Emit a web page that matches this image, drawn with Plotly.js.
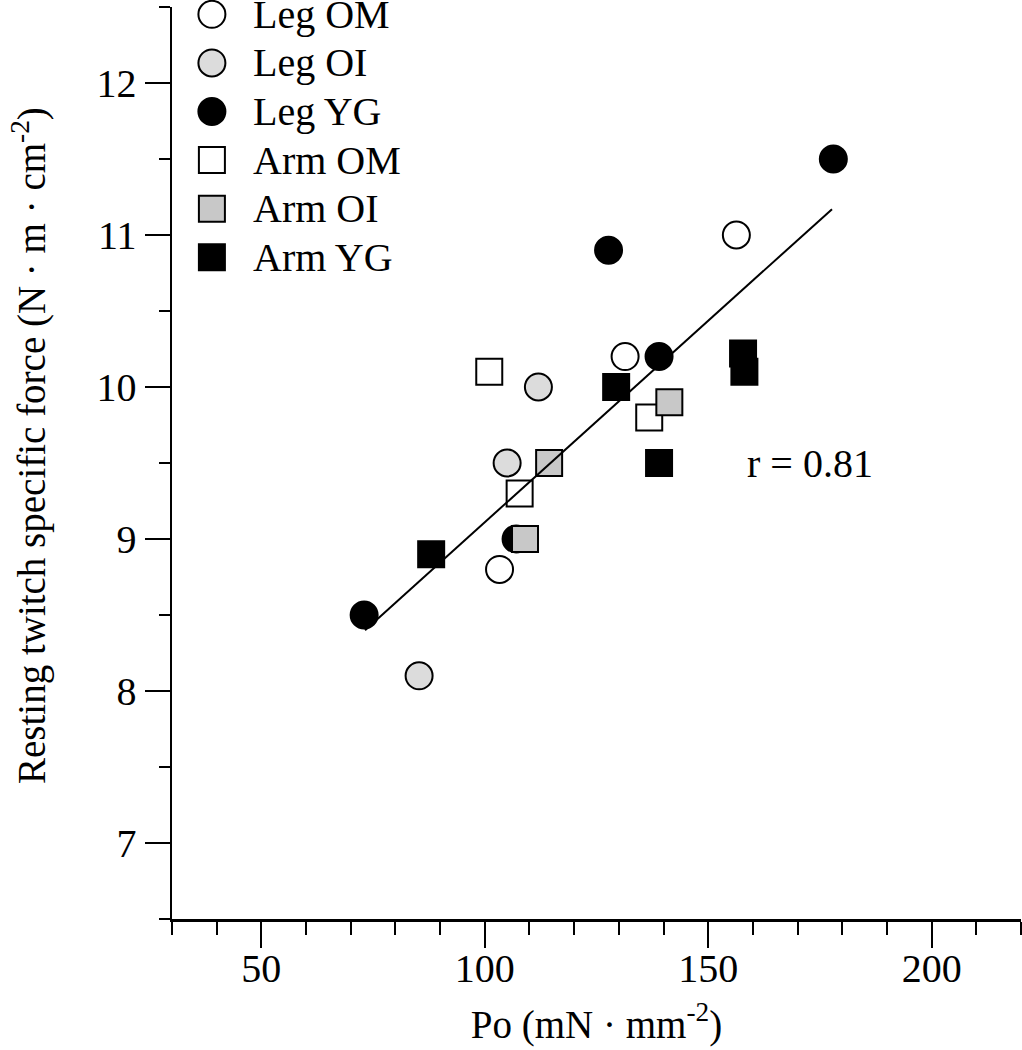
<!DOCTYPE html>
<html>
<head>
<meta charset="utf-8">
<script src="https://cdn.plot.ly/plotly-3.0.1.min.js"></script>
<style>html,body{margin:0;padding:0;background:#fff;}#chart{width:1022px;height:1050px;}</style>
</head>
<body>
<div id="chart"></div>
<script>
// ---- data ----
const seriesNames = ["Leg OM", "Leg OI", "Leg YG", "Arm OM", "Arm OI", "Arm YG"];
const legOM_x = [131.4, 156.3, 103.3];
const legOM_y = [10.2, 11.0, 8.8];
const legOI_x = [112.0, 105.0, 85.3];
const legOI_y = [10.0, 9.5, 8.1];
const legYG_x = [178.0, 127.7, 139.0, 107.0, 73.0];
const legYG_y = [11.5, 10.9, 10.2, 9.0, 8.5];
const armOM_x = [101.0, 136.8, 107.8];
const armOM_y = [10.1, 9.8, 9.3];
const armOI_x = [141.3, 114.4, 109.0];
const armOI_y = [9.9, 9.5, 9.0];
const armYG_x = [129.4, 157.8, 158.1, 139.0, 88.0];
const armYG_y = [10.0, 10.22, 10.1, 9.5, 8.9];
const fitX = [73.2, 177.7];
const fitY = [8.40, 11.17];
const rLabel = "r = 0.81";
const xTitle = "Po (mN · mm<sup>-2</sup>)";
const yTitle = "Resting twitch specific force (N · m · cm<sup>-2</sup>)";
const xTickVals = [50, 100, 150, 200];
const yTickVals = [7, 8, 9, 10, 11, 12];

// ---- styles ----
const FONT = "Liberation Serif, Times New Roman, serif";
const symbols = ["circle", "circle", "circle", "square", "square", "square"];
const fills = ["#ffffff", "#dcdcdc", "#000000", "#ffffff", "#c8c8c8", "#000000"];
const xs = [legOM_x, legOI_x, legYG_x, armOM_x, armOI_x, armYG_x];
const ys = [legOM_y, legOI_y, legYG_y, armOM_y, armOI_y, armYG_y];

const traces = seriesNames.map((name, i) => ({
  type: "scatter", mode: "markers", name: name,
  x: xs[i], y: ys[i], cliponaxis: false, showlegend: false,
  marker: { symbol: symbols[i], size: i < 3 ? 27 : 26, color: fills[i], opacity: 1,
            line: { color: "#000", width: 2 } }
}));

traces.push({
  type: "scatter", mode: "lines", x: fitX, y: fitY, showlegend: false,
  line: { color: "#000", width: 2 }, hoverinfo: "skip"
});

// custom legend (placed in an overlay axis spanning the plot area)
const legX0 = 0.047, legY0 = 0.992, legDy = 0.0533;
seriesNames.forEach((name, i) => {
  traces.push({
    type: "scatter", mode: "markers", xaxis: "x2", yaxis: "y2", showlegend: false,
    cliponaxis: false, hoverinfo: "skip",
    x: [legX0], y: [legY0 - i * legDy],
    marker: { symbol: symbols[i], size: i < 3 ? 27 : 26, color: fills[i], opacity: 1,
              line: { color: "#000", width: 2 } }
  });
});

const annotations = seriesNames.map((name, i) => ({
  xref: "x2", yref: "y2", x: 0.0935, y: legY0 - i * legDy,
  xanchor: "left", yanchor: "middle", showarrow: false, text: name,
  font: { family: FONT, size: 40, color: "#000" }
}));
annotations.push({
  xref: "x", yref: "y", x: 172.8, y: 9.5, showarrow: false, text: rLabel,
  xanchor: "center", yanchor: "middle",
  font: { family: FONT, size: 40, color: "#000" }
});
// y-axis title (as a rotated annotation so its vertical placement can match)
annotations.push({
  xref: "paper", yref: "paper", x: -0.168, y: 0.519, showarrow: false,
  text: yTitle, textangle: -90, xanchor: "center", yanchor: "middle",
  font: { family: FONT, size: 39, color: "#000" }
});

const layout = {
  width: 1022, height: 1050,
  margin: { l: 172, r: 1, t: 7, b: 131 },
  paper_bgcolor: "#fff", plot_bgcolor: "#fff",
  font: { family: FONT, size: 40, color: "#000" },
  showlegend: false,
  xaxis: {
    range: [30, 220], showgrid: false, zeroline: false,
    showline: true, linecolor: "#000", linewidth: 2.5,
    ticks: "outside", ticklen: 26, tickwidth: 2, tickcolor: "#000",
    tickvals: xTickVals, ticktext: xTickVals.map(String),
    ticklabelstandoff: -14,
    minor: { dtick: 10, tick0: 0, ticks: "outside", ticklen: 13, tickwidth: 2, tickcolor: "#000", showgrid: false },
    tickfont: { family: FONT, size: 40 },
    title: { text: xTitle, font: { family: FONT, size: 39 }, standoff: 21 },
    automargin: false
  },
  yaxis: {
    range: [6.5, 12.5], showgrid: false, zeroline: false,
    showline: true, linecolor: "#000", linewidth: 2.5,
    ticks: "outside", ticklen: 25, tickwidth: 2, tickcolor: "#000",
    tickvals: yTickVals, ticktext: yTickVals.map(String),
    ticklabelstandoff: 0,
    minor: { dtick: 0.5, tick0: 0, ticks: "outside", ticklen: 11, tickwidth: 2, tickcolor: "#000", showgrid: false },
    tickfont: { family: FONT, size: 40 },
    automargin: false
  },
  xaxis2: { overlaying: "x", range: [0, 1], visible: false, fixedrange: true },
  yaxis2: { overlaying: "y", range: [0, 1], visible: false, fixedrange: true },
  annotations: annotations
};

Plotly.newPlot("chart", traces, layout, { staticPlot: true, displayModeBar: false });
</script>
</body>
</html>
